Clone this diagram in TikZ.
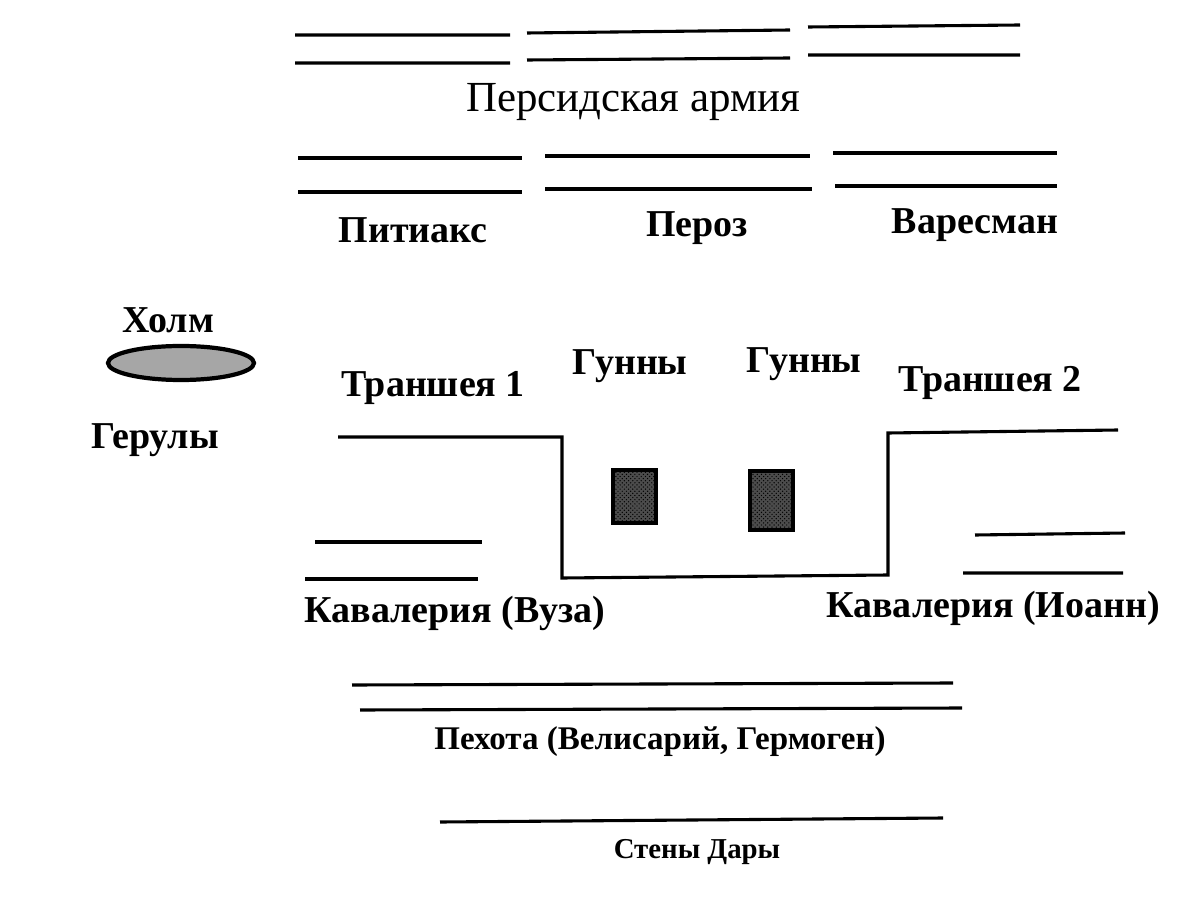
\documentclass[tikz,border=0pt]{standalone}
\usepackage{fontspec}
\setmainfont{Liberation Serif}
\usetikzlibrary{patterns}
\begin{document}
\begin{tikzpicture}[x=0.025cm,y=-0.025cm,
  ln/.style={line width=2.2pt},
  lbl/.style={font=\fontsize{27}{30}\selectfont\bfseries},
  lblr/.style={font=\fontsize{30.5}{34}\selectfont},
  blk/.style={draw=black,line width=3pt,fill=black!55,pattern=crosshatch dots,pattern color=black},
  hl/.style={draw=black,line width=3pt,fill=black!35}]
\useasboundingbox (0,0) rectangle (1203,911);
% Persian lines
\draw[ln] (295,35)--(510,35) (527,33)--(790,30) (808,27)--(1020,25);
\draw[ln] (295,63)--(510,63) (527,60)--(790,58) (808,55)--(1020,55);
\node[lblr] (pa) at (633,102) {Персидская армия};
\draw[ln] (298,158)--(522,158) (545,156)--(810,156) (833,153)--(1057,153);
\draw[ln] (298,192)--(522,192) (545,189)--(812,189) (835,186)--(1057,186);
\node[lbl] (pit) at (413,230) {Питиакс};
\node[lbl] (per) at (697,228) {Пероз};
\node[lbl] (var) at (975,225) {Варесман};
% hill
\node[lbl] (holm) at (168,320) {Холм};
\draw[hl] (181,363) ellipse [x radius=73,y radius=17];
\node[lbl] (ger) at (155,440) {Герулы};
% trench
\node[lbl] (t1) at (433,388) {Траншея 1};
\node[lbl] (g1) at (630,366) {Гунны};
\node[lbl] (g2) at (804,364) {Гунны};
\node[lbl] (t2) at (990,383) {Траншея 2};
\draw[ln] (338,437)--(562,437)--(562,578)--(888,575)--(888,433)--(1118,430);
\fill[black!70] (613,470) rectangle (656,523);
\draw[blk] (613,470) rectangle (656,523);
\fill[black!70] (750,471) rectangle (793,530);
\draw[blk] (750,471) rectangle (793,530);
% cavalry
\draw[ln] (315,542)--(482,542) (305,579)--(478,579);
\draw[ln] (975,535)--(1125,533) (963,573)--(1123,573);
\node[lbl] (cv1) at (455,613) {Кавалерия (Вуза)};
\node[lbl] (cv2) at (993,608) {Кавалерия (Иоанн)};
% infantry
\draw[ln] (352,685)--(953,683) (360,710)--(962,708);
\node[font=\fontsize{23.5}{27}\selectfont\bfseries] (inf) at (660,742) {Пехота (Велисарий, Гермоген)};
% walls
\draw[ln] (440,822)--(943,818);
\node[font=\fontsize{20.5}{24}\selectfont\bfseries] (wall) at (697,852) {Стены Дары};
\end{tikzpicture}
\end{document}
